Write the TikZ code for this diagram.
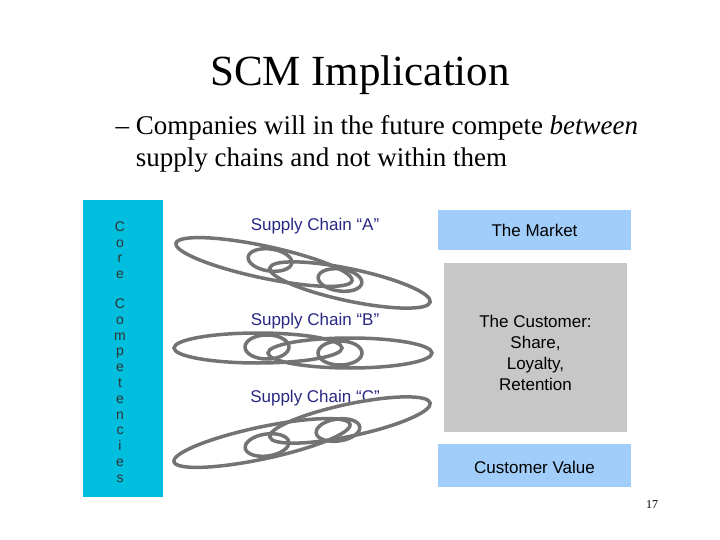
\documentclass[tikz,border=0pt]{standalone}
\usepackage{fontspec}
\setmainfont{Liberation Serif}
\newfontfamily\arialf{Liberation Sans}
\definecolor{cyanbox}{RGB}{0,190,222}
\definecolor{lblue}{RGB}{160,205,250}
\definecolor{navy}{RGB}{40,40,130}
\begin{document}
\begin{tikzpicture}[x=1pt,y=-1pt,
 ring/.style={draw=black!55,line width=3.5pt},
 lab/.style={font=\arialf\fontsize{17}{20}\selectfont,text=navy},
 blk/.style={font=\arialf\fontsize{17}{21}\selectfont,align=center}]
\useasboundingbox (0,0) rectangle (720,540);
\node (title) at (360,75) {\fontsize{43}{48}\selectfont SCM Implication};
\node[anchor=west,align=left,font=\fontsize{27}{32}\selectfont] (sub) at (112,144) {-- Companies will in the future compete \textit{between}\\\phantom{-- }supply chains and not within them};
\node[fill=cyanbox,minimum width=80,minimum height=297,anchor=north west,inner sep=0] (core) at (83,200) {};
\node[font=\arialf\fontsize{14}{15.8}\selectfont,text=black!80,align=center,anchor=north] (corelbl) at (120,218) {C\\o\\r\\e\\[14pt]C\\o\\m\\p\\e\\t\\e\\n\\c\\i\\e\\s};
\node[lab] (la) at (315,226) {Supply Chain “A”};
\node[lab] (lb) at (315,321) {Supply Chain “B”};
\node[lab] (lc) at (315,398) {Supply Chain “C”};
% chain A
\draw[ring] (264,262) ellipse[x radius=90,y radius=16,rotate=-12];
\draw[ring] (350,285) ellipse[x radius=82,y radius=16,rotate=-12];
\draw[ring] (270,260) ellipse[x radius=22,y radius=11,rotate=-8];
\draw[ring] (340,280) ellipse[x radius=22,y radius=11,rotate=-8];
% chain B
\draw[ring] (258,348) ellipse[x radius=84,y radius=15];
\draw[ring] (350,353) ellipse[x radius=82,y radius=15];
\draw[ring] (267,347) ellipse[x radius=22,y radius=12];
\draw[ring] (340,353) ellipse[x radius=22,y radius=12];
% chain C
\draw[ring] (262,443) ellipse[x radius=90,y radius=16,rotate=12];
\draw[ring] (350,420) ellipse[x radius=82,y radius=16,rotate=12];
\draw[ring] (267,445) ellipse[x radius=22,y radius=11,rotate=8];
\draw[ring] (338,430) ellipse[x radius=22,y radius=11,rotate=8];
\node[blk,fill=lblue,minimum width=193,minimum height=40,inner sep=0] (mkt) at (534.5,230) {The Market};
\node[blk,fill=black!22,minimum width=183,minimum height=169,inner sep=0] (cust) at (535.5,347.5) {};
\node[blk] (custt) at (535.5,353) {The Customer:\\Share,\\Loyalty,\\Retention};
\node[blk,fill=lblue,minimum width=193,minimum height=43,inner sep=0] (cv) at (534.5,465.5) {};
\node[blk] (cvt) at (534.5,467) {Customer Value};
\node[font=\fontsize{12}{14}\selectfont] (pg) at (652,505) {17};
\end{tikzpicture}
\end{document}
